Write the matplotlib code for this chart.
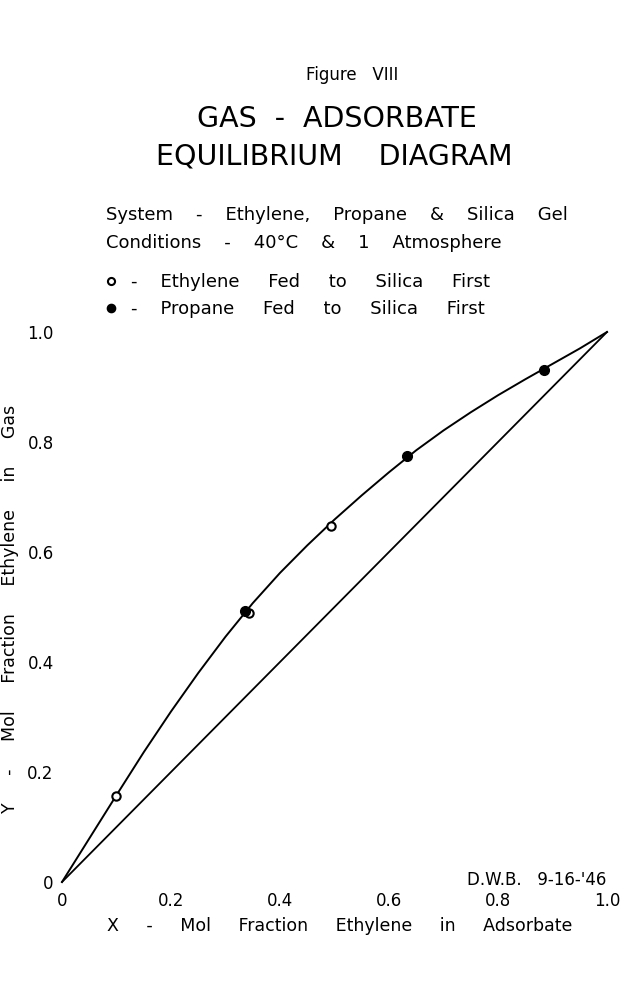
import matplotlib
matplotlib.use("Agg")
import matplotlib.pyplot as plt

# ---- data ----
curve_x = [0, 0.05, 0.10, 0.15, 0.20, 0.25, 0.30, 0.35, 0.40, 0.45, 0.50,
           0.55, 0.60, 0.65, 0.70, 0.75, 0.80, 0.85, 0.90, 0.95, 1.0]
curve_y = [0, 0.079, 0.158, 0.236, 0.310, 0.380, 0.446, 0.507, 0.562, 0.612, 0.659,
           0.703, 0.745, 0.785, 0.821, 0.854, 0.885, 0.914, 0.942, 0.970, 1.0]
diag_x = [0, 1.0]
diag_y = [0, 1.0]

ethylene_first_x = [0.099, 0.343, 0.494]
ethylene_first_y = [0.156, 0.489, 0.647]
propane_first_x = [0.336, 0.633, 0.884]
propane_first_y = [0.493, 0.775, 0.931]

xtick_vals = [0, 0.2, 0.4, 0.6, 0.8, 1.0]
xtick_labels = ["0", "0.2", "0.4", "0.6", "0.8", "1.0"]
ytick_vals = [0, 0.2, 0.4, 0.6, 0.8, 1.0]
ytick_labels = ["0", "0.2", "0.4", "0.6", "0.8", "1.0"]

plt.rcParams['font.family'] = ['DejaVu Sans']

W, H = 630, 990
fig = plt.figure(figsize=(6.3, 9.9), dpi=100)
ax = fig.add_axes([62 / W, 1 - 882 / H, 545 / W, 550 / H])

ax.plot(curve_x, curve_y, color="black", lw=1.4, clip_on=False)
ax.plot(diag_x, diag_y, color="black", lw=1.3, clip_on=False)
h1, = ax.plot(ethylene_first_x, ethylene_first_y, ls="none", marker="o", ms=6,
              mfc="white", mec="black", mew=1.5, clip_on=False)
h2, = ax.plot(propane_first_x, propane_first_y, ls="none", marker="o", ms=7,
              mfc="black", mec="black", clip_on=False)

ax.set_xlim(0, 1)
ax.set_ylim(0, 1)
for s in ax.spines.values():
    s.set_visible(False)
ax.set_xticks(xtick_vals)
ax.set_xticklabels(xtick_labels)
ax.set_yticks(ytick_vals)
ax.set_yticklabels(ytick_labels)
ax.tick_params(axis="both", length=0, labelsize=12)
ax.tick_params(axis="x", pad=7)
ax.tick_params(axis="y", pad=6)

ax.set_xlabel("X     -     Mol     Fraction     Ethylene     in     Adsorbate", fontsize=12.5)
ax.xaxis.set_label_coords((340 - 62) / 545, (882 - 926) / 550)
ax.xaxis.label.set_va("center")
ax.set_ylabel("Y     -     Mol     Fraction     Ethylene     in     Gas", fontsize=12.5)
ax.yaxis.set_label_coords((10 - 62) / 545, (882 - 609) / 550)
ax.yaxis.label.set_va("center")

fig.text(352 / W, 1 - 75 / H, "Figure   VIII", ha="center", va="center", fontsize=12)
fig.text(337 / W, 1 - 119 / H, "GAS  -  ADSORBATE", ha="center", va="center", fontsize=20.5)
fig.text(334 / W, 1 - 156 / H, "EQUILIBRIUM    DIAGRAM", ha="center", va="center", fontsize=20.5)
fig.text(106 / W, 1 - 215 / H, "System    -    Ethylene,    Propane    &    Silica    Gel",
         ha="left", va="center", fontsize=13)
fig.text(106 / W, 1 - 243 / H, "Conditions    -    40°C    &    1    Atmosphere",
         ha="left", va="center", fontsize=13)

ax.legend([h1, h2],
          ["-    Ethylene     Fed     to     Silica     First",
           "-    Propane     Fed     to     Silica     First"],
          loc="upper left", bbox_to_anchor=(104 / W, 1 - 273 / H),
          bbox_transform=fig.transFigure, frameon=False, fontsize=13,
          handlelength=0.8, handletextpad=0.7, labelspacing=0.5,
          borderpad=0, borderaxespad=0, markerscale=0.85)

fig.text(606 / W, 1 - 880 / H, "D.W.B.   9-16-'46", ha="right", va="center", fontsize=12)

fig.savefig("out.png", dpi=100, facecolor="white")
